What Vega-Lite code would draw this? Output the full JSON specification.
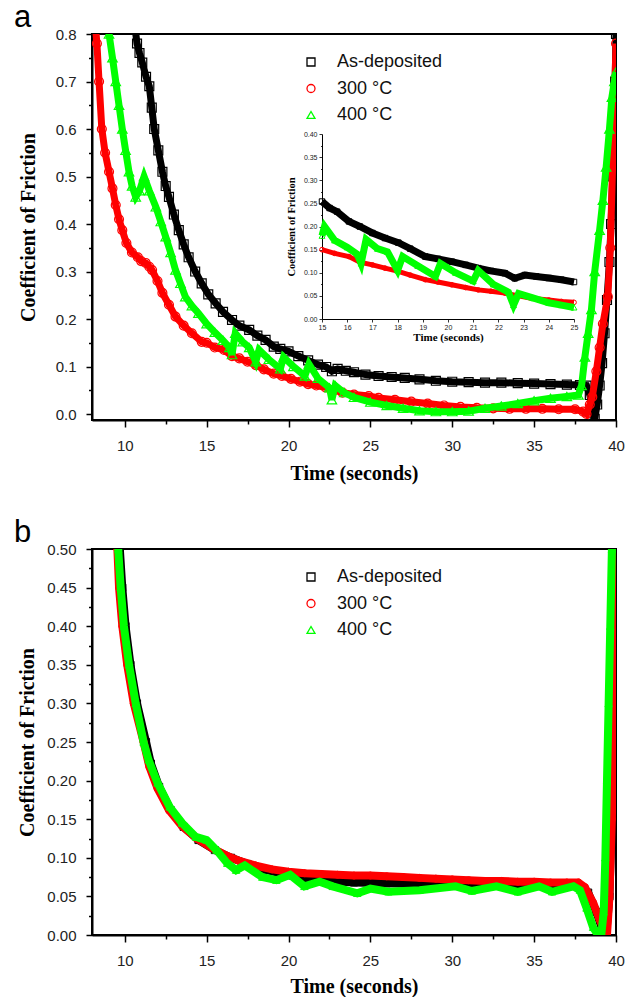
{
  "$schema": "https://vega.github.io/schema/vega-lite/v6.json",
  "background": "white",
  "padding": {"left": 13, "top": 1, "right": 0, "bottom": 0},
  "config": {
    "view": {"stroke": "black", "strokeWidth": 2},
    "axis": {"domainColor": "black", "domainWidth": 2, "tickColor": "black", "tickWidth": 1.5, "grid": false, "labelFont": "Liberation Sans", "labelFontSize": 15, "labelColor": "#222", "titleFont": "Liberation Serif", "titleFontSize": 20, "titleFontWeight": "bold", "titleColor": "black"},
    "legend": {"labelFontSize": 18, "labelFont": "Liberation Sans", "labelColor": "#111", "symbolSize": 64, "symbolStrokeWidth": 1.3, "rowPadding": 8.5, "labelOffset": 17, "padding": 0},
    "title": {"anchor": "start", "frame": "group", "fontSize": 31, "fontWeight": "normal", "font": "Liberation Sans", "color": "black", "offset": -7, "dx": -78, "baseline": "alphabetic"}
  },
  "spacing": 32,
  "resolve": {"scale": {"color": "independent", "shape": "independent"}, "legend": {"color": "independent", "shape": "independent"}},
  "datasets": {
    "a_main": [
      {"s": "As-deposited", "t": 10.6, "v": 0.82}, {"s": "As-deposited", "t": 10.75, "v": 0.78}, {"s": "As-deposited", "t": 10.9, "v": 0.76}, {"s": "As-deposited", "t": 11.07, "v": 0.74}, {"s": "As-deposited", "t": 11.3, "v": 0.71}, {"s": "As-deposited", "t": 11.5, "v": 0.69}, {"s": "As-deposited", "t": 11.65, "v": 0.645}, {"s": "As-deposited", "t": 11.8, "v": 0.6}, {"s": "As-deposited", "t": 12.05, "v": 0.555}, {"s": "As-deposited", "t": 12.3, "v": 0.51}, {"s": "As-deposited", "t": 12.5, "v": 0.48}, {"s": "As-deposited", "t": 12.7, "v": 0.457}, {"s": "As-deposited", "t": 13.0, "v": 0.42}, {"s": "As-deposited", "t": 13.3, "v": 0.387}, {"s": "As-deposited", "t": 13.6, "v": 0.357}, {"s": "As-deposited", "t": 13.9, "v": 0.33}, {"s": "As-deposited", "t": 14.3, "v": 0.3}, {"s": "As-deposited", "t": 14.7, "v": 0.275}, {"s": "As-deposited", "t": 15.1, "v": 0.252}, {"s": "As-deposited", "t": 15.55, "v": 0.233}, {"s": "As-deposited", "t": 16.0, "v": 0.215}, {"s": "As-deposited", "t": 16.55, "v": 0.198}, {"s": "As-deposited", "t": 17.0, "v": 0.186}, {"s": "As-deposited", "t": 17.6, "v": 0.177}, {"s": "As-deposited", "t": 18.1, "v": 0.165}, {"s": "As-deposited", "t": 18.6, "v": 0.156}, {"s": "As-deposited", "t": 19.1, "v": 0.142}, {"s": "As-deposited", "t": 19.5, "v": 0.137}, {"s": "As-deposited", "t": 20.0, "v": 0.132}, {"s": "As-deposited", "t": 20.6, "v": 0.122}, {"s": "As-deposited", "t": 21.2, "v": 0.113}, {"s": "As-deposited", "t": 21.8, "v": 0.104}, {"s": "As-deposited", "t": 22.3, "v": 0.099}, {"s": "As-deposited", "t": 22.65, "v": 0.09}, {"s": "As-deposited", "t": 23.0, "v": 0.095}, {"s": "As-deposited", "t": 23.5, "v": 0.091}, {"s": "As-deposited", "t": 24.0, "v": 0.088}, {"s": "As-deposited", "t": 24.7, "v": 0.083}, {"s": "As-deposited", "t": 25.5, "v": 0.08}, {"s": "As-deposited", "t": 26.3, "v": 0.078}, {"s": "As-deposited", "t": 27.1, "v": 0.076}, {"s": "As-deposited", "t": 28.0, "v": 0.073}, {"s": "As-deposited", "t": 29.0, "v": 0.07}, {"s": "As-deposited", "t": 30.0, "v": 0.068}, {"s": "As-deposited", "t": 31.0, "v": 0.067}, {"s": "As-deposited", "t": 32.0, "v": 0.066}, {"s": "As-deposited", "t": 33.0, "v": 0.066}, {"s": "As-deposited", "t": 34.0, "v": 0.065}, {"s": "As-deposited", "t": 35.0, "v": 0.064}, {"s": "As-deposited", "t": 36.0, "v": 0.063}, {"s": "As-deposited", "t": 37.0, "v": 0.062}, {"s": "As-deposited", "t": 37.8, "v": 0.061}, {"s": "As-deposited", "t": 38.2, "v": 0.06}, {"s": "As-deposited", "t": 38.4, "v": 0.04}, {"s": "As-deposited", "t": 38.55, "v": 0.01}, {"s": "As-deposited", "t": 38.7, "v": -0.01}, {"s": "As-deposited", "t": 38.85, "v": 0.02}, {"s": "As-deposited", "t": 39.0, "v": 0.06}, {"s": "As-deposited", "t": 39.15, "v": 0.107}, {"s": "As-deposited", "t": 39.3, "v": 0.17}, {"s": "As-deposited", "t": 39.45, "v": 0.24}, {"s": "As-deposited", "t": 39.6, "v": 0.32}, {"s": "As-deposited", "t": 39.7, "v": 0.4}, {"s": "As-deposited", "t": 39.8, "v": 0.5}, {"s": "As-deposited", "t": 39.9, "v": 0.6}, {"s": "As-deposited", "t": 39.95, "v": 0.7}, {"s": "As-deposited", "t": 40.0, "v": 0.8},
      {"s": "300 °C", "t": 8.2, "v": 0.82}, {"s": "300 °C", "t": 8.3, "v": 0.78}, {"s": "300 °C", "t": 8.43, "v": 0.7}, {"s": "300 °C", "t": 8.6, "v": 0.6}, {"s": "300 °C", "t": 8.8, "v": 0.55}, {"s": "300 °C", "t": 9.04, "v": 0.51}, {"s": "300 °C", "t": 9.25, "v": 0.475}, {"s": "300 °C", "t": 9.45, "v": 0.44}, {"s": "300 °C", "t": 9.65, "v": 0.41}, {"s": "300 °C", "t": 9.85, "v": 0.387}, {"s": "300 °C", "t": 10.1, "v": 0.36}, {"s": "300 °C", "t": 10.44, "v": 0.34}, {"s": "300 °C", "t": 10.8, "v": 0.33}, {"s": "300 °C", "t": 11.0, "v": 0.322}, {"s": "300 °C", "t": 11.28, "v": 0.318}, {"s": "300 °C", "t": 11.5, "v": 0.31}, {"s": "300 °C", "t": 11.67, "v": 0.303}, {"s": "300 °C", "t": 12.0, "v": 0.28}, {"s": "300 °C", "t": 12.3, "v": 0.255}, {"s": "300 °C", "t": 12.7, "v": 0.23}, {"s": "300 °C", "t": 13.1, "v": 0.205}, {"s": "300 °C", "t": 13.6, "v": 0.186}, {"s": "300 °C", "t": 14.1, "v": 0.17}, {"s": "300 °C", "t": 14.7, "v": 0.152}, {"s": "300 °C", "t": 15.0, "v": 0.15}, {"s": "300 °C", "t": 15.5, "v": 0.14}, {"s": "300 °C", "t": 16.07, "v": 0.135}, {"s": "300 °C", "t": 16.55, "v": 0.122}, {"s": "300 °C", "t": 17.0, "v": 0.117}, {"s": "300 °C", "t": 17.5, "v": 0.11}, {"s": "300 °C", "t": 18.0, "v": 0.103}, {"s": "300 °C", "t": 18.5, "v": 0.094}, {"s": "300 °C", "t": 19.1, "v": 0.085}, {"s": "300 °C", "t": 19.6, "v": 0.08}, {"s": "300 °C", "t": 20.15, "v": 0.074}, {"s": "300 °C", "t": 20.7, "v": 0.068}, {"s": "300 °C", "t": 21.2, "v": 0.063}, {"s": "300 °C", "t": 21.7, "v": 0.06}, {"s": "300 °C", "t": 22.26, "v": 0.056}, {"s": "300 °C", "t": 22.8, "v": 0.05}, {"s": "300 °C", "t": 23.3, "v": 0.045}, {"s": "300 °C", "t": 24.0, "v": 0.041}, {"s": "300 °C", "t": 24.9, "v": 0.038}, {"s": "300 °C", "t": 25.5, "v": 0.034}, {"s": "300 °C", "t": 26.5, "v": 0.03}, {"s": "300 °C", "t": 27.5, "v": 0.026}, {"s": "300 °C", "t": 28.5, "v": 0.022}, {"s": "300 °C", "t": 29.5, "v": 0.018}, {"s": "300 °C", "t": 30.5, "v": 0.015}, {"s": "300 °C", "t": 31.5, "v": 0.013}, {"s": "300 °C", "t": 32.5, "v": 0.012}, {"s": "300 °C", "t": 33.5, "v": 0.011}, {"s": "300 °C", "t": 34.5, "v": 0.011}, {"s": "300 °C", "t": 35.5, "v": 0.011}, {"s": "300 °C", "t": 36.5, "v": 0.01}, {"s": "300 °C", "t": 37.5, "v": 0.01}, {"s": "300 °C", "t": 38.0, "v": 0.005}, {"s": "300 °C", "t": 38.2, "v": 0.0}, {"s": "300 °C", "t": 38.4, "v": 0.02}, {"s": "300 °C", "t": 38.55, "v": 0.036}, {"s": "300 °C", "t": 38.8, "v": 0.09}, {"s": "300 °C", "t": 39.0, "v": 0.14}, {"s": "300 °C", "t": 39.2, "v": 0.19}, {"s": "300 °C", "t": 39.5, "v": 0.247}, {"s": "300 °C", "t": 39.65, "v": 0.35}, {"s": "300 °C", "t": 39.8, "v": 0.53}, {"s": "300 °C", "t": 39.9, "v": 0.65}, {"s": "300 °C", "t": 40.0, "v": 0.78},
      {"s": "400 °C", "t": 8.95, "v": 0.82}, {"s": "400 °C", "t": 9.04, "v": 0.8}, {"s": "400 °C", "t": 9.25, "v": 0.75}, {"s": "400 °C", "t": 9.45, "v": 0.7}, {"s": "400 °C", "t": 9.65, "v": 0.65}, {"s": "400 °C", "t": 9.85, "v": 0.6}, {"s": "400 °C", "t": 10.05, "v": 0.555}, {"s": "400 °C", "t": 10.26, "v": 0.51}, {"s": "400 °C", "t": 10.45, "v": 0.48}, {"s": "400 °C", "t": 10.67, "v": 0.457}, {"s": "400 °C", "t": 10.9, "v": 0.47}, {"s": "400 °C", "t": 11.18, "v": 0.5}, {"s": "400 °C", "t": 11.5, "v": 0.47}, {"s": "400 °C", "t": 11.9, "v": 0.436}, {"s": "400 °C", "t": 12.2, "v": 0.405}, {"s": "400 °C", "t": 12.5, "v": 0.373}, {"s": "400 °C", "t": 12.8, "v": 0.34}, {"s": "400 °C", "t": 13.1, "v": 0.303}, {"s": "400 °C", "t": 13.4, "v": 0.275}, {"s": "400 °C", "t": 13.7, "v": 0.247}, {"s": "400 °C", "t": 14.1, "v": 0.228}, {"s": "400 °C", "t": 14.5, "v": 0.212}, {"s": "400 °C", "t": 15.0, "v": 0.19}, {"s": "400 °C", "t": 15.5, "v": 0.172}, {"s": "400 °C", "t": 16.0, "v": 0.155}, {"s": "400 °C", "t": 16.4, "v": 0.14}, {"s": "400 °C", "t": 16.55, "v": 0.125}, {"s": "400 °C", "t": 16.75, "v": 0.17}, {"s": "400 °C", "t": 17.2, "v": 0.152}, {"s": "400 °C", "t": 17.6, "v": 0.14}, {"s": "400 °C", "t": 18.0, "v": 0.11}, {"s": "400 °C", "t": 18.2, "v": 0.135}, {"s": "400 °C", "t": 18.8, "v": 0.115}, {"s": "400 °C", "t": 19.5, "v": 0.095}, {"s": "400 °C", "t": 19.7, "v": 0.12}, {"s": "400 °C", "t": 20.3, "v": 0.1}, {"s": "400 °C", "t": 21.0, "v": 0.08}, {"s": "400 °C", "t": 21.25, "v": 0.105}, {"s": "400 °C", "t": 21.8, "v": 0.075}, {"s": "400 °C", "t": 22.5, "v": 0.055}, {"s": "400 °C", "t": 22.65, "v": 0.03}, {"s": "400 °C", "t": 22.85, "v": 0.06}, {"s": "400 °C", "t": 23.4, "v": 0.045}, {"s": "400 °C", "t": 24.0, "v": 0.035}, {"s": "400 °C", "t": 25.0, "v": 0.025}, {"s": "400 °C", "t": 26.0, "v": 0.018}, {"s": "400 °C", "t": 27.0, "v": 0.012}, {"s": "400 °C", "t": 28.0, "v": 0.007}, {"s": "400 °C", "t": 29.0, "v": 0.005}, {"s": "400 °C", "t": 30.0, "v": 0.005}, {"s": "400 °C", "t": 31.0, "v": 0.006}, {"s": "400 °C", "t": 32.0, "v": 0.012}, {"s": "400 °C", "t": 33.0, "v": 0.017}, {"s": "400 °C", "t": 34.0, "v": 0.022}, {"s": "400 °C", "t": 35.0, "v": 0.028}, {"s": "400 °C", "t": 36.0, "v": 0.033}, {"s": "400 °C", "t": 37.0, "v": 0.037}, {"s": "400 °C", "t": 37.7, "v": 0.04}, {"s": "400 °C", "t": 37.9, "v": 0.06}, {"s": "400 °C", "t": 38.1, "v": 0.12}, {"s": "400 °C", "t": 38.3, "v": 0.17}, {"s": "400 °C", "t": 38.5, "v": 0.22}, {"s": "400 °C", "t": 38.7, "v": 0.3}, {"s": "400 °C", "t": 39.0, "v": 0.387}, {"s": "400 °C", "t": 39.2, "v": 0.45}, {"s": "400 °C", "t": 39.4, "v": 0.52}, {"s": "400 °C", "t": 39.6, "v": 0.6}, {"s": "400 °C", "t": 39.75, "v": 0.667}, {"s": "400 °C", "t": 39.9, "v": 0.7}, {"s": "400 °C", "t": 40.0, "v": 0.72}
    ],
    "a_inset": [
      {"s": "As-deposited", "t": 15.0, "v": 0.254}, {"s": "As-deposited", "t": 15.3, "v": 0.24}, {"s": "As-deposited", "t": 15.6, "v": 0.232}, {"s": "As-deposited", "t": 16.07, "v": 0.211}, {"s": "As-deposited", "t": 16.5, "v": 0.2}, {"s": "As-deposited", "t": 17.0, "v": 0.186}, {"s": "As-deposited", "t": 17.5, "v": 0.175}, {"s": "As-deposited", "t": 18.03, "v": 0.165}, {"s": "As-deposited", "t": 18.5, "v": 0.152}, {"s": "As-deposited", "t": 19.1, "v": 0.135}, {"s": "As-deposited", "t": 19.6, "v": 0.13}, {"s": "As-deposited", "t": 20.15, "v": 0.124}, {"s": "As-deposited", "t": 20.7, "v": 0.117}, {"s": "As-deposited", "t": 21.2, "v": 0.11}, {"s": "As-deposited", "t": 21.7, "v": 0.104}, {"s": "As-deposited", "t": 22.26, "v": 0.099}, {"s": "As-deposited", "t": 22.65, "v": 0.088}, {"s": "As-deposited", "t": 23.05, "v": 0.095}, {"s": "As-deposited", "t": 23.5, "v": 0.092}, {"s": "As-deposited", "t": 24.0, "v": 0.0886}, {"s": "As-deposited", "t": 24.5, "v": 0.085}, {"s": "As-deposited", "t": 25.0, "v": 0.08},
      {"s": "300 °C", "t": 15.0, "v": 0.15}, {"s": "300 °C", "t": 15.5, "v": 0.142}, {"s": "300 °C", "t": 16.07, "v": 0.135}, {"s": "300 °C", "t": 16.5, "v": 0.123}, {"s": "300 °C", "t": 17.0, "v": 0.117}, {"s": "300 °C", "t": 17.5, "v": 0.11}, {"s": "300 °C", "t": 18.03, "v": 0.103}, {"s": "300 °C", "t": 18.5, "v": 0.095}, {"s": "300 °C", "t": 19.1, "v": 0.085}, {"s": "300 °C", "t": 19.6, "v": 0.08}, {"s": "300 °C", "t": 20.15, "v": 0.074}, {"s": "300 °C", "t": 20.7, "v": 0.068}, {"s": "300 °C", "t": 21.2, "v": 0.063}, {"s": "300 °C", "t": 21.7, "v": 0.06}, {"s": "300 °C", "t": 22.26, "v": 0.056}, {"s": "300 °C", "t": 22.8, "v": 0.05}, {"s": "300 °C", "t": 23.3, "v": 0.045}, {"s": "300 °C", "t": 24.0, "v": 0.041}, {"s": "300 °C", "t": 24.5, "v": 0.038}, {"s": "300 °C", "t": 25.0, "v": 0.036},
      {"s": "400 °C", "t": 15.0, "v": 0.18}, {"s": "400 °C", "t": 15.1, "v": 0.2}, {"s": "400 °C", "t": 15.5, "v": 0.17}, {"s": "400 °C", "t": 16.0, "v": 0.155}, {"s": "400 °C", "t": 16.4, "v": 0.14}, {"s": "400 °C", "t": 16.55, "v": 0.12}, {"s": "400 °C", "t": 16.75, "v": 0.172}, {"s": "400 °C", "t": 17.2, "v": 0.152}, {"s": "400 °C", "t": 17.6, "v": 0.145}, {"s": "400 °C", "t": 18.0, "v": 0.105}, {"s": "400 °C", "t": 18.2, "v": 0.135}, {"s": "400 °C", "t": 18.8, "v": 0.115}, {"s": "400 °C", "t": 19.5, "v": 0.092}, {"s": "400 °C", "t": 19.7, "v": 0.12}, {"s": "400 °C", "t": 20.3, "v": 0.1}, {"s": "400 °C", "t": 21.0, "v": 0.082}, {"s": "400 °C", "t": 21.2, "v": 0.105}, {"s": "400 °C", "t": 21.8, "v": 0.075}, {"s": "400 °C", "t": 22.4, "v": 0.058}, {"s": "400 °C", "t": 22.6, "v": 0.03}, {"s": "400 °C", "t": 22.8, "v": 0.055}, {"s": "400 °C", "t": 23.4, "v": 0.045}, {"s": "400 °C", "t": 24.0, "v": 0.035}, {"s": "400 °C", "t": 24.5, "v": 0.03}, {"s": "400 °C", "t": 25.0, "v": 0.025}
    ],
    "b_main": [
      {"s": "As-deposited", "t": 9.6, "v": 0.52}, {"s": "As-deposited", "t": 9.7, "v": 0.5}, {"s": "As-deposited", "t": 9.85, "v": 0.45}, {"s": "As-deposited", "t": 10.05, "v": 0.4}, {"s": "As-deposited", "t": 10.35, "v": 0.35}, {"s": "As-deposited", "t": 10.75, "v": 0.3}, {"s": "As-deposited", "t": 11.3, "v": 0.25}, {"s": "As-deposited", "t": 11.6, "v": 0.222}, {"s": "As-deposited", "t": 12.1, "v": 0.192}, {"s": "As-deposited", "t": 12.8, "v": 0.162}, {"s": "As-deposited", "t": 13.6, "v": 0.14}, {"s": "As-deposited", "t": 14.5, "v": 0.123}, {"s": "As-deposited", "t": 15.5, "v": 0.11}, {"s": "As-deposited", "t": 16.5, "v": 0.1}, {"s": "As-deposited", "t": 17.5, "v": 0.092}, {"s": "As-deposited", "t": 18.5, "v": 0.085}, {"s": "As-deposited", "t": 19.5, "v": 0.08}, {"s": "As-deposited", "t": 20.5, "v": 0.075}, {"s": "As-deposited", "t": 21.5, "v": 0.072}, {"s": "As-deposited", "t": 22.5, "v": 0.07}, {"s": "As-deposited", "t": 24.0, "v": 0.068}, {"s": "As-deposited", "t": 26.0, "v": 0.067}, {"s": "As-deposited", "t": 28.0, "v": 0.066}, {"s": "As-deposited", "t": 30.0, "v": 0.066}, {"s": "As-deposited", "t": 32.0, "v": 0.066}, {"s": "As-deposited", "t": 34.0, "v": 0.066}, {"s": "As-deposited", "t": 36.0, "v": 0.065}, {"s": "As-deposited", "t": 37.7, "v": 0.064}, {"s": "As-deposited", "t": 38.3, "v": 0.055}, {"s": "As-deposited", "t": 38.8, "v": 0.03}, {"s": "As-deposited", "t": 39.2, "v": 0.005}, {"s": "As-deposited", "t": 39.4, "v": 0.0}, {"s": "As-deposited", "t": 39.6, "v": 0.05}, {"s": "As-deposited", "t": 39.8, "v": 0.2}, {"s": "As-deposited", "t": 39.9, "v": 0.35}, {"s": "As-deposited", "t": 40.0, "v": 0.46},
      {"s": "300 °C", "t": 9.5, "v": 0.52}, {"s": "300 °C", "t": 9.55, "v": 0.5}, {"s": "300 °C", "t": 9.65, "v": 0.45}, {"s": "300 °C", "t": 9.85, "v": 0.4}, {"s": "300 °C", "t": 10.15, "v": 0.35}, {"s": "300 °C", "t": 10.55, "v": 0.3}, {"s": "300 °C", "t": 11.15, "v": 0.25}, {"s": "300 °C", "t": 11.5, "v": 0.218}, {"s": "300 °C", "t": 12.0, "v": 0.19}, {"s": "300 °C", "t": 12.7, "v": 0.162}, {"s": "300 °C", "t": 13.5, "v": 0.141}, {"s": "300 °C", "t": 14.4, "v": 0.125}, {"s": "300 °C", "t": 15.3, "v": 0.113}, {"s": "300 °C", "t": 16.2, "v": 0.103}, {"s": "300 °C", "t": 17.0, "v": 0.096}, {"s": "300 °C", "t": 18.0, "v": 0.09}, {"s": "300 °C", "t": 19.0, "v": 0.085}, {"s": "300 °C", "t": 20.0, "v": 0.082}, {"s": "300 °C", "t": 21.0, "v": 0.08}, {"s": "300 °C", "t": 22.0, "v": 0.079}, {"s": "300 °C", "t": 23.0, "v": 0.078}, {"s": "300 °C", "t": 24.0, "v": 0.077}, {"s": "300 °C", "t": 25.0, "v": 0.077}, {"s": "300 °C", "t": 26.0, "v": 0.076}, {"s": "300 °C", "t": 27.0, "v": 0.075}, {"s": "300 °C", "t": 28.0, "v": 0.074}, {"s": "300 °C", "t": 29.0, "v": 0.073}, {"s": "300 °C", "t": 30.0, "v": 0.072}, {"s": "300 °C", "t": 31.0, "v": 0.071}, {"s": "300 °C", "t": 32.0, "v": 0.07}, {"s": "300 °C", "t": 33.0, "v": 0.07}, {"s": "300 °C", "t": 34.0, "v": 0.069}, {"s": "300 °C", "t": 35.0, "v": 0.069}, {"s": "300 °C", "t": 36.0, "v": 0.068}, {"s": "300 °C", "t": 37.0, "v": 0.068}, {"s": "300 °C", "t": 37.7, "v": 0.068}, {"s": "300 °C", "t": 38.1, "v": 0.062}, {"s": "300 °C", "t": 38.6, "v": 0.042}, {"s": "300 °C", "t": 39.0, "v": 0.02}, {"s": "300 °C", "t": 39.3, "v": 0.005}, {"s": "300 °C", "t": 39.45, "v": 0.0}, {"s": "300 °C", "t": 39.6, "v": 0.05}, {"s": "300 °C", "t": 39.75, "v": 0.15}, {"s": "300 °C", "t": 39.85, "v": 0.3}, {"s": "300 °C", "t": 39.95, "v": 0.45}, {"s": "300 °C", "t": 40.0, "v": 0.52},
      {"s": "400 °C", "t": 9.5, "v": 0.53}, {"s": "400 °C", "t": 9.6, "v": 0.5}, {"s": "400 °C", "t": 9.75, "v": 0.45}, {"s": "400 °C", "t": 9.95, "v": 0.4}, {"s": "400 °C", "t": 10.26, "v": 0.35}, {"s": "400 °C", "t": 10.67, "v": 0.3}, {"s": "400 °C", "t": 11.15, "v": 0.25}, {"s": "400 °C", "t": 11.45, "v": 0.227}, {"s": "400 °C", "t": 12.0, "v": 0.197}, {"s": "400 °C", "t": 12.74, "v": 0.166}, {"s": "400 °C", "t": 13.5, "v": 0.145}, {"s": "400 °C", "t": 14.34, "v": 0.127}, {"s": "400 °C", "t": 15.0, "v": 0.123}, {"s": "400 °C", "t": 15.6, "v": 0.11}, {"s": "400 °C", "t": 16.26, "v": 0.093}, {"s": "400 °C", "t": 16.8, "v": 0.084}, {"s": "400 °C", "t": 17.33, "v": 0.09}, {"s": "400 °C", "t": 18.4, "v": 0.075}, {"s": "400 °C", "t": 19.26, "v": 0.071}, {"s": "400 °C", "t": 20.1, "v": 0.078}, {"s": "400 °C", "t": 20.97, "v": 0.063}, {"s": "400 °C", "t": 21.9, "v": 0.069}, {"s": "400 °C", "t": 22.7, "v": 0.063}, {"s": "400 °C", "t": 24.2, "v": 0.054}, {"s": "400 °C", "t": 25.0, "v": 0.06}, {"s": "400 °C", "t": 26.1, "v": 0.056}, {"s": "400 °C", "t": 28.0, "v": 0.058}, {"s": "400 °C", "t": 30.2, "v": 0.063}, {"s": "400 °C", "t": 31.2, "v": 0.057}, {"s": "400 °C", "t": 32.7, "v": 0.063}, {"s": "400 °C", "t": 34.0, "v": 0.056}, {"s": "400 °C", "t": 35.3, "v": 0.063}, {"s": "400 °C", "t": 36.1, "v": 0.056}, {"s": "400 °C", "t": 37.4, "v": 0.063}, {"s": "400 °C", "t": 37.8, "v": 0.058}, {"s": "400 °C", "t": 38.2, "v": 0.035}, {"s": "400 °C", "t": 38.6, "v": 0.01}, {"s": "400 °C", "t": 38.9, "v": 0.0}, {"s": "400 °C", "t": 39.1, "v": 0.0}, {"s": "400 °C", "t": 39.25, "v": 0.03}, {"s": "400 °C", "t": 39.35, "v": 0.1}, {"s": "400 °C", "t": 39.45, "v": 0.2}, {"s": "400 °C", "t": 39.55, "v": 0.3}, {"s": "400 °C", "t": 39.65, "v": 0.4}, {"s": "400 °C", "t": 39.75, "v": 0.5}
    ]
  },
  "vconcat": [
    {
      "title": {"text": "a"},
      "width": 524,
      "height": 386,
      "resolve": {"scale": {"x": "independent", "y": "independent"}},
      "layer": [
        {
          "data": {"name": "a_main"},
          "encoding": {
            "x": {"field": "t", "type": "quantitative", "title": "Time (seconds)", "scale": {"domain": [8, 40], "nice": false, "zero": false}, "axis": {"orient": "bottom", "values": [10, 12.5, 15, 17.5, 20, 22.5, 25, 27.5, 30, 32.5, 35, 37.5, 40], "labelExpr": "datum.value % 5 == 0 ? datum.label : ''", "format": "d", "tickSize": {"condition": {"test": "datum.value % 5 == 0", "value": 7}, "value": 4}, "labelPadding": 11, "titlePadding": 10, "labelFlush": false}},
            "y": {"field": "v", "type": "quantitative", "title": "Coefficient of Friction", "scale": {"domain": [-0.0126, 0.8], "nice": false, "zero": false}, "axis": {"orient": "left", "values": [0, 0.05, 0.1, 0.15, 0.2, 0.25, 0.3, 0.35, 0.4, 0.45, 0.5, 0.55, 0.6, 0.65, 0.7, 0.75, 0.8], "format": ".1f", "labelExpr": "abs(datum.value*10 - round(datum.value*10)) < 0.001 ? datum.label : ''", "tickSize": {"condition": {"test": "abs(datum.value*10 - round(datum.value*10)) < 0.001", "value": 6}, "value": 3.5}, "labelPadding": 10, "titlePadding": 17, "labelFlush": false}}
          },
          "layer": [
            {"transform": [{"filter": {"field": "s", "equal": "As-deposited"}}], "mark": {"type": "line", "stroke": "#000000", "strokeWidth": 7, "clip": true}},
            {"transform": [{"filter": {"field": "s", "equal": "As-deposited"}}], "mark": {"type": "point", "filled": false, "size": 80, "strokeWidth": 1.2, "opacity": 1, "clip": true},
             "encoding": {
               "color": {"field": "s", "type": "nominal", "scale": {"domain": ["As-deposited", "300 °C", "400 °C"], "range": ["#000000", "#ff0000", "#00ff00"]}, "legend": {"title": null, "orient": "none", "legendX": 210, "legendY": 19}},
               "shape": {"field": "s", "type": "nominal", "scale": {"domain": ["As-deposited", "300 °C", "400 °C"], "range": ["square", "circle", "triangle-up"]}, "legend": {"title": null, "orient": "none", "legendX": 210, "legendY": 19}}
             }},
            {"transform": [{"filter": {"field": "s", "equal": "300 °C"}}], "mark": {"type": "line", "stroke": "#ff0000", "strokeWidth": 7, "clip": true}},
            {"transform": [{"filter": {"field": "s", "equal": "300 °C"}}], "mark": {"type": "point", "filled": false, "size": 80, "strokeWidth": 1.2, "opacity": 1, "clip": true},
             "encoding": {
               "color": {"field": "s", "type": "nominal", "scale": {"domain": ["As-deposited", "300 °C", "400 °C"], "range": ["#000000", "#ff0000", "#00ff00"]}, "legend": {"title": null, "orient": "none", "legendX": 210, "legendY": 19}},
               "shape": {"field": "s", "type": "nominal", "scale": {"domain": ["As-deposited", "300 °C", "400 °C"], "range": ["square", "circle", "triangle-up"]}, "legend": {"title": null, "orient": "none", "legendX": 210, "legendY": 19}}
             }},
            {"transform": [{"filter": {"field": "s", "equal": "400 °C"}}], "mark": {"type": "line", "stroke": "#00ff00", "strokeWidth": 7, "clip": true}},
            {"transform": [{"filter": {"field": "s", "equal": "400 °C"}}], "mark": {"type": "point", "filled": false, "size": 90, "strokeWidth": 1.2, "opacity": 1, "clip": true},
             "encoding": {
               "color": {"field": "s", "type": "nominal", "scale": {"domain": ["As-deposited", "300 °C", "400 °C"], "range": ["#000000", "#ff0000", "#00ff00"]}, "legend": {"title": null, "orient": "none", "legendX": 210, "legendY": 19}},
               "shape": {"field": "s", "type": "nominal", "scale": {"domain": ["As-deposited", "300 °C", "400 °C"], "range": ["square", "circle", "triangle-up"]}, "legend": {"title": null, "orient": "none", "legendX": 210, "legendY": 19}}
             }}
          ]
        },
        {
          "data": {"name": "a_inset"},
          "encoding": {
            "x": {"field": "t", "type": "quantitative", "title": "Time (seconds)", "scale": {"domain": [15, 25], "range": [230, 482], "nice": false, "zero": false}, "axis": {"orient": "bottom", "offset": -101, "values": [15, 15.5, 16, 16.5, 17, 17.5, 18, 18.5, 19, 19.5, 20, 20.5, 21, 21.5, 22, 22.5, 23, 23.5, 24, 24.5, 25], "format": "d", "labelExpr": "datum.value % 1 == 0 ? datum.label : ''", "tickSize": {"condition": {"test": "datum.value % 1 == 0", "value": 3}, "value": 1.5}, "labelFontSize": 7, "labelPadding": 1, "labelFlush": false, "domainWidth": 1, "tickWidth": 0.8, "titleFontSize": 11, "titlePadding": 1}},
            "y": {"field": "v", "type": "quantitative", "title": "Coefficient of Friction", "scale": {"domain": [0, 0.4], "range": [285, 100], "nice": false, "zero": false}, "axis": {"orient": "left", "offset": -230, "values": [0, 0.025, 0.05, 0.075, 0.1, 0.125, 0.15, 0.175, 0.2, 0.225, 0.25, 0.275, 0.3, 0.325, 0.35, 0.375, 0.4], "format": ".2f", "labelExpr": "abs(datum.value*20 - round(datum.value*20)) < 0.001 ? datum.label : ''", "tickSize": {"condition": {"test": "abs(datum.value*20 - round(datum.value*20)) < 0.001", "value": 3}, "value": 1.5}, "labelFontSize": 7, "labelPadding": 2, "labelFlush": false, "domainWidth": 1, "tickWidth": 0.8, "titleFontSize": 10.5, "titlePadding": 7}}
          },
          "layer": [
            {"data": {"values": [{}]}, "mark": {"type": "rect", "fill": "white", "stroke": "black", "strokeWidth": 1},
             "encoding": {
               "x": {"datum": 15, "type": "quantitative", "title": "Time (seconds)"},
               "x2": {"datum": 25},
               "y": {"datum": 0, "type": "quantitative", "title": "Coefficient of Friction"},
               "y2": {"datum": 0.4}
             }},
            {"transform": [{"filter": {"field": "s", "equal": "As-deposited"}}], "mark": {"type": "line", "stroke": "#000000", "strokeWidth": 7}},
            {"transform": [{"filter": {"field": "s", "equal": "As-deposited"}}], "mark": {"type": "point", "shape": "square", "color": "#000000", "filled": false, "size": 30, "strokeWidth": 1, "opacity": 1}},
            {"transform": [{"filter": {"field": "s", "equal": "300 °C"}}], "mark": {"type": "line", "stroke": "#ff0000", "strokeWidth": 5}},
            {"transform": [{"filter": {"field": "s", "equal": "300 °C"}}], "mark": {"type": "point", "shape": "circle", "color": "#ff0000", "filled": false, "size": 22, "strokeWidth": 1, "opacity": 1}},
            {"transform": [{"filter": {"field": "s", "equal": "400 °C"}}], "mark": {"type": "line", "stroke": "#00ff00", "strokeWidth": 7}},
            {"transform": [{"filter": {"field": "s", "equal": "400 °C"}}], "mark": {"type": "point", "shape": "triangle-up", "color": "#00ff00", "filled": false, "size": 35, "strokeWidth": 1, "opacity": 1}}
          ]
        }
      ]
    },
    {
      "title": {"text": "b"},
      "width": 524,
      "height": 386,
      "data": {"name": "b_main"},
      "encoding": {
        "x": {"field": "t", "type": "quantitative", "title": "Time (seconds)", "scale": {"domain": [8, 40], "nice": false, "zero": false}, "axis": {"orient": "bottom", "values": [10, 12.5, 15, 17.5, 20, 22.5, 25, 27.5, 30, 32.5, 35, 37.5, 40], "labelExpr": "datum.value % 5 == 0 ? datum.label : ''", "format": "d", "tickSize": {"condition": {"test": "datum.value % 5 == 0", "value": 7}, "value": 4}, "labelPadding": 11, "titlePadding": 8, "labelFlush": false}},
        "y": {"field": "v", "type": "quantitative", "title": "Coefficient of Friction", "scale": {"domain": [0, 0.5], "nice": false, "zero": false}, "axis": {"orient": "left", "values": [0, 0.025, 0.05, 0.075, 0.1, 0.125, 0.15, 0.175, 0.2, 0.225, 0.25, 0.275, 0.3, 0.325, 0.35, 0.375, 0.4, 0.425, 0.45, 0.475, 0.5], "format": ".2f", "labelExpr": "abs(datum.value*20 - round(datum.value*20)) < 0.001 ? datum.label : ''", "tickSize": {"condition": {"test": "abs(datum.value*20 - round(datum.value*20)) < 0.001", "value": 6}, "value": 3.5}, "labelPadding": 10, "titlePadding": 9, "labelFlush": false}}
      },
      "layer": [
        {"transform": [{"filter": {"field": "s", "equal": "As-deposited"}}], "mark": {"type": "line", "stroke": "#000000", "strokeWidth": 8, "clip": true}},
        {"transform": [{"filter": {"field": "s", "equal": "As-deposited"}}], "mark": {"type": "point", "filled": false, "size": 50, "strokeWidth": 1, "opacity": 1, "clip": true},
         "encoding": {
           "color": {"field": "s", "type": "nominal", "scale": {"domain": ["As-deposited", "300 °C", "400 °C"], "range": ["#000000", "#ff0000", "#00ff00"]}, "legend": {"title": null, "orient": "none", "legendX": 210, "legendY": 19}},
           "shape": {"field": "s", "type": "nominal", "scale": {"domain": ["As-deposited", "300 °C", "400 °C"], "range": ["square", "circle", "triangle-up"]}, "legend": {"title": null, "orient": "none", "legendX": 210, "legendY": 19}}
         }},
        {"transform": [{"filter": {"field": "s", "equal": "300 °C"}}], "mark": {"type": "line", "stroke": "#ff0000", "strokeWidth": 8, "clip": true}},
        {"transform": [{"filter": {"field": "s", "equal": "300 °C"}}], "mark": {"type": "point", "filled": false, "size": 50, "strokeWidth": 1, "opacity": 1, "clip": true},
         "encoding": {
           "color": {"field": "s", "type": "nominal", "scale": {"domain": ["As-deposited", "300 °C", "400 °C"], "range": ["#000000", "#ff0000", "#00ff00"]}, "legend": {"title": null, "orient": "none", "legendX": 210, "legendY": 19}},
           "shape": {"field": "s", "type": "nominal", "scale": {"domain": ["As-deposited", "300 °C", "400 °C"], "range": ["square", "circle", "triangle-up"]}, "legend": {"title": null, "orient": "none", "legendX": 210, "legendY": 19}}
         }},
        {"transform": [{"filter": {"field": "s", "equal": "400 °C"}}], "mark": {"type": "line", "stroke": "#00ff00", "strokeWidth": 8, "clip": true}},
        {"transform": [{"filter": {"field": "s", "equal": "400 °C"}}], "mark": {"type": "point", "filled": false, "size": 55, "strokeWidth": 1, "opacity": 1, "clip": true},
         "encoding": {
           "color": {"field": "s", "type": "nominal", "scale": {"domain": ["As-deposited", "300 °C", "400 °C"], "range": ["#000000", "#ff0000", "#00ff00"]}, "legend": {"title": null, "orient": "none", "legendX": 210, "legendY": 19}},
           "shape": {"field": "s", "type": "nominal", "scale": {"domain": ["As-deposited", "300 °C", "400 °C"], "range": ["square", "circle", "triangle-up"]}, "legend": {"title": null, "orient": "none", "legendX": 210, "legendY": 19}}
         }}
      ]
    }
  ]
}
